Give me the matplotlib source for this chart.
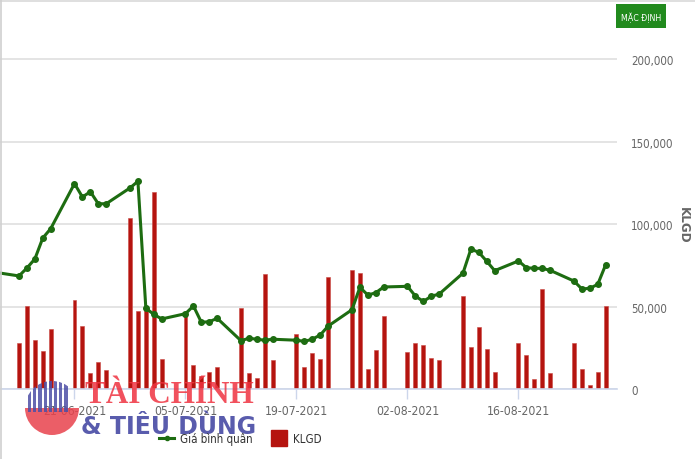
import matplotlib
matplotlib.use("Agg")
import matplotlib.pyplot as plt
import matplotlib.dates as mdates
from matplotlib import font_manager as fm
from matplotlib.lines import Line2D
from matplotlib.patches import Rectangle, Circle, Wedge
import pandas as pd

# ---------------- data ----------------
price_dates = ["2021-06-11",
               "2021-06-14", "2021-06-15", "2021-06-16", "2021-06-17", "2021-06-18",
               "2021-06-21", "2021-06-22", "2021-06-23", "2021-06-24", "2021-06-25",
               "2021-06-28", "2021-06-29", "2021-06-30", "2021-07-01", "2021-07-02",
               "2021-07-05", "2021-07-06", "2021-07-07", "2021-07-08", "2021-07-09",
               "2021-07-12", "2021-07-13", "2021-07-14", "2021-07-15", "2021-07-16",
               "2021-07-19", "2021-07-20", "2021-07-21", "2021-07-22", "2021-07-23",
               "2021-07-26", "2021-07-27", "2021-07-28", "2021-07-29", "2021-07-30",
               "2021-08-02", "2021-08-03", "2021-08-04", "2021-08-05", "2021-08-06",
               "2021-08-09", "2021-08-10", "2021-08-11", "2021-08-12", "2021-08-13",
               "2021-08-16", "2021-08-17", "2021-08-18", "2021-08-19", "2021-08-20",
               "2021-08-23", "2021-08-24", "2021-08-25", "2021-08-26", "2021-08-27"]

gia_binh_quan = [70800,
                 68600, 73400, 78900, 91600, 97300,
                 124600, 116500, 119700, 112400, 112400,
                 122000, 126000, 49000, 45300, 42500,
                 45700, 50400, 40500, 40800, 42900,
                 29300, 30800, 30200, 29600, 30200,
                 29600, 28900, 30200, 32800, 38200,
                 48100, 61700, 57000, 58400, 61900,
                 62300, 56400, 53100, 56300, 57600,
                 70300, 84900, 82900, 77500, 71800,
                 77700, 73600, 73200, 73200, 72000,
                 65500, 60700, 61100, 63500, 75400]

vol_dates = price_dates[1:]
klgd = [27900, 50500, 29500, 23200, 36600,
        54000, 38400, 9700, 16600, 11300,
        103600, 47100, 50500, 119300, 18200,
        46100, 14800, 7700, 10500, 13100,
        49000, 9500, 6900, 69600, 17400,
        33200, 13100, 21800, 18200, 68000,
        72400, 70600, 12100, 23500, 44500,
        22700, 27900, 27000, 19100, 17300,
        56600, 25300, 37400, 24300, 10100,
        27700, 20800, 5900, 60900, 9500,
        27700, 11900, 2400, 10100, 50500]

x_ticks = ["2021-06-21", "2021-07-05", "2021-07-19", "2021-08-02", "2021-08-16"]
y_ticks = [0, 50000, 100000, 150000, 200000]


# ---------------- fonts: look for a condensed face ----------------
def find_narrow(bold=False):
    best = None
    for f in fm.fontManager.ttflist:
        name = f.name
        st = f.stretch
        narrow = ("Narrow" in name or "Condensed" in name or
                  st in ("condensed", "semi-condensed", "extra-condensed", "ultra-condensed") or
                  (isinstance(st, int) and st < 500))
        if not narrow:
            continue
        w = f.weight if isinstance(f.weight, int) else {"normal": 400, "regular": 400, "bold": 700}.get(str(f.weight), 400)
        if f.style != "normal":
            continue
        want = 700 if bold else 400
        score = abs(w - want)
        if "Liberation" in name:
            score -= 50
        if best is None or score < best[0]:
            best = (score, f.fname)
    return best[1] if best else None


nf = find_narrow()
nfb = find_narrow(bold=True)
if nf:
    FP = lambda size: fm.FontProperties(fname=nf, size=size)
else:
    FP = lambda size: fm.FontProperties(family="Liberation Sans", size=size * 0.9)
if nfb:
    FPB = lambda size: fm.FontProperties(fname=nfb, size=size)
else:
    FPB = lambda size: fm.FontProperties(family="Liberation Sans", weight="bold", size=size * 0.9)

GREEN = "#1d6c11"
RED = "#b5140f"
TXT = "#666666"

W, H = 695, 460
fig = plt.figure(figsize=(W / 100, H / 100), dpi=100)
fig.patch.set_facecolor("white")

ax_left, ax_right, ax_bottom, ax_top = 0, 616.7, 390, 50.5
ax = fig.add_axes([ax_left / W, 1 - ax_bottom / H, (ax_right - ax_left) / W, (ax_bottom - ax_top) / H])
ax.set_facecolor("none")

pd_p = pd.to_datetime(price_dates)
pd_v = pd.to_datetime(vol_dates)

ax.bar(pd_v, klgd, width=0.5, color=RED, edgecolor="#c94a45", linewidth=0.4, zorder=2)
ax.plot(pd_p, gia_binh_quan, color=GREEN, lw=2.2, marker="o", ms=4, zorder=3)

d0 = mdates.date2num(pd.Timestamp("2021-06-14"))
px_day = 7.928
ax.set_xlim(d0 - 19 / px_day, d0 + (616.7 - 19) / px_day)
ax.set_ylim(0, 206000)

for s in ["top", "left", "right"]:
    ax.spines[s].set_visible(False)
ax.spines["bottom"].set_color("#ccd6eb")
ax.spines["bottom"].set_linewidth(1.2)

ax.yaxis.tick_right()
ax.set_yticks(y_ticks)
ax.set_yticklabels([f"{v:,}" for v in y_ticks], fontproperties=FP(8.3), color=TXT)
ax.tick_params(axis="y", length=0, pad=10.5)
ax.grid(axis="y", color="#dcdcdc", lw=1.1, zorder=0)
ax.set_axisbelow(True)

ax.set_xticks(pd.to_datetime(x_ticks))
ax.set_xticklabels([pd.Timestamp(t).strftime("%d-%m-%Y") for t in x_ticks],
                   fontproperties=FP(8.7), color=TXT)
ax.tick_params(axis="x", length=7.5, width=1, color="#ccd6eb", pad=3)

ax.yaxis.set_label_position("right")
ax.set_ylabel("KLGD", rotation=270, fontproperties=FPB(9.5), color=TXT)
ax.yaxis.set_label_coords((683 - ax_left) / (ax_right - ax_left), (390 - 225) / (390 - 50.5))
ax.yaxis.label.set_ha("center")
ax.yaxis.label.set_va("center")

# legend
handles = [Line2D([], [], color=GREEN, lw=2.2, marker="o", ms=3),
           Line2D([], [], ls="none", marker="s", ms=11.5, color=RED)]
leg = fig.legend(handles, ["Giá bình quân", "KLGD"], loc="center",
                 bbox_to_anchor=(240 / W, 1 - 440 / H), ncol=2, frameon=False,
                 prop=FP(8.3), handlelength=1.35,
                 handletextpad=0.5, columnspacing=1.6, borderpad=0, borderaxespad=0)
for t in leg.get_texts():
    t.set_color("#333333")

# figure border lines (top, left)
fig.add_artist(Line2D([0, 1], [1 - 1.5 / H, 1 - 1.5 / H], color="#d9d9d9", lw=1.2, transform=fig.transFigure))
fig.add_artist(Line2D([0.5 / W, 0.5 / W], [0, 1], color="#d0d0d0", lw=1.2, transform=fig.transFigure))

# "MẶC ĐỊNH" button
fig.add_artist(Rectangle((616 / W, 1 - 29 / H), 50 / W, 24 / H, transform=fig.transFigure,
                         facecolor="#218a1d", edgecolor="none"))
fig.text(641 / W, 1 - 17.5 / H, "MẶC ĐỊNH", ha="center", va="center", color="white",
         fontproperties=FP(6.3))

# watermark logo
cx, cy, r = 52, 409, 27
logo_ax = fig.add_axes([0, 0, 1, 1], zorder=5)
logo_ax.set_xlim(0, W)
logo_ax.set_ylim(0, H)
logo_ax.axis("off")
logo_ax.add_patch(Wedge((cx, H - cy), r, 180, 360, facecolor="#e8424c", alpha=0.85, lw=0))
clip = Circle((cx, H - cy), r, transform=logo_ax.transData)
for i in range(8):
    xs = cx - r + 3 + i * 5.2
    rect = Rectangle((xs, H - cy - 4), 3.2, r + 6, facecolor="#4d4fa6", alpha=0.85, lw=0)
    logo_ax.add_patch(rect)
    rect.set_clip_path(clip)
logo_ax.text(85, H - 396, "TÀI CHÍNH", fontsize=22.5, fontweight="bold", family="Liberation Serif",
             color="#ef3340", alpha=0.85, va="center", ha="left")
logo_ax.text(81, H - 427, "& TIÊU DÙNG", fontsize=17, fontweight="bold", family="DejaVu Sans",
             color="#4b4ea6", alpha=0.92, va="center", ha="left")

fig.savefig("out.png", dpi=100)
